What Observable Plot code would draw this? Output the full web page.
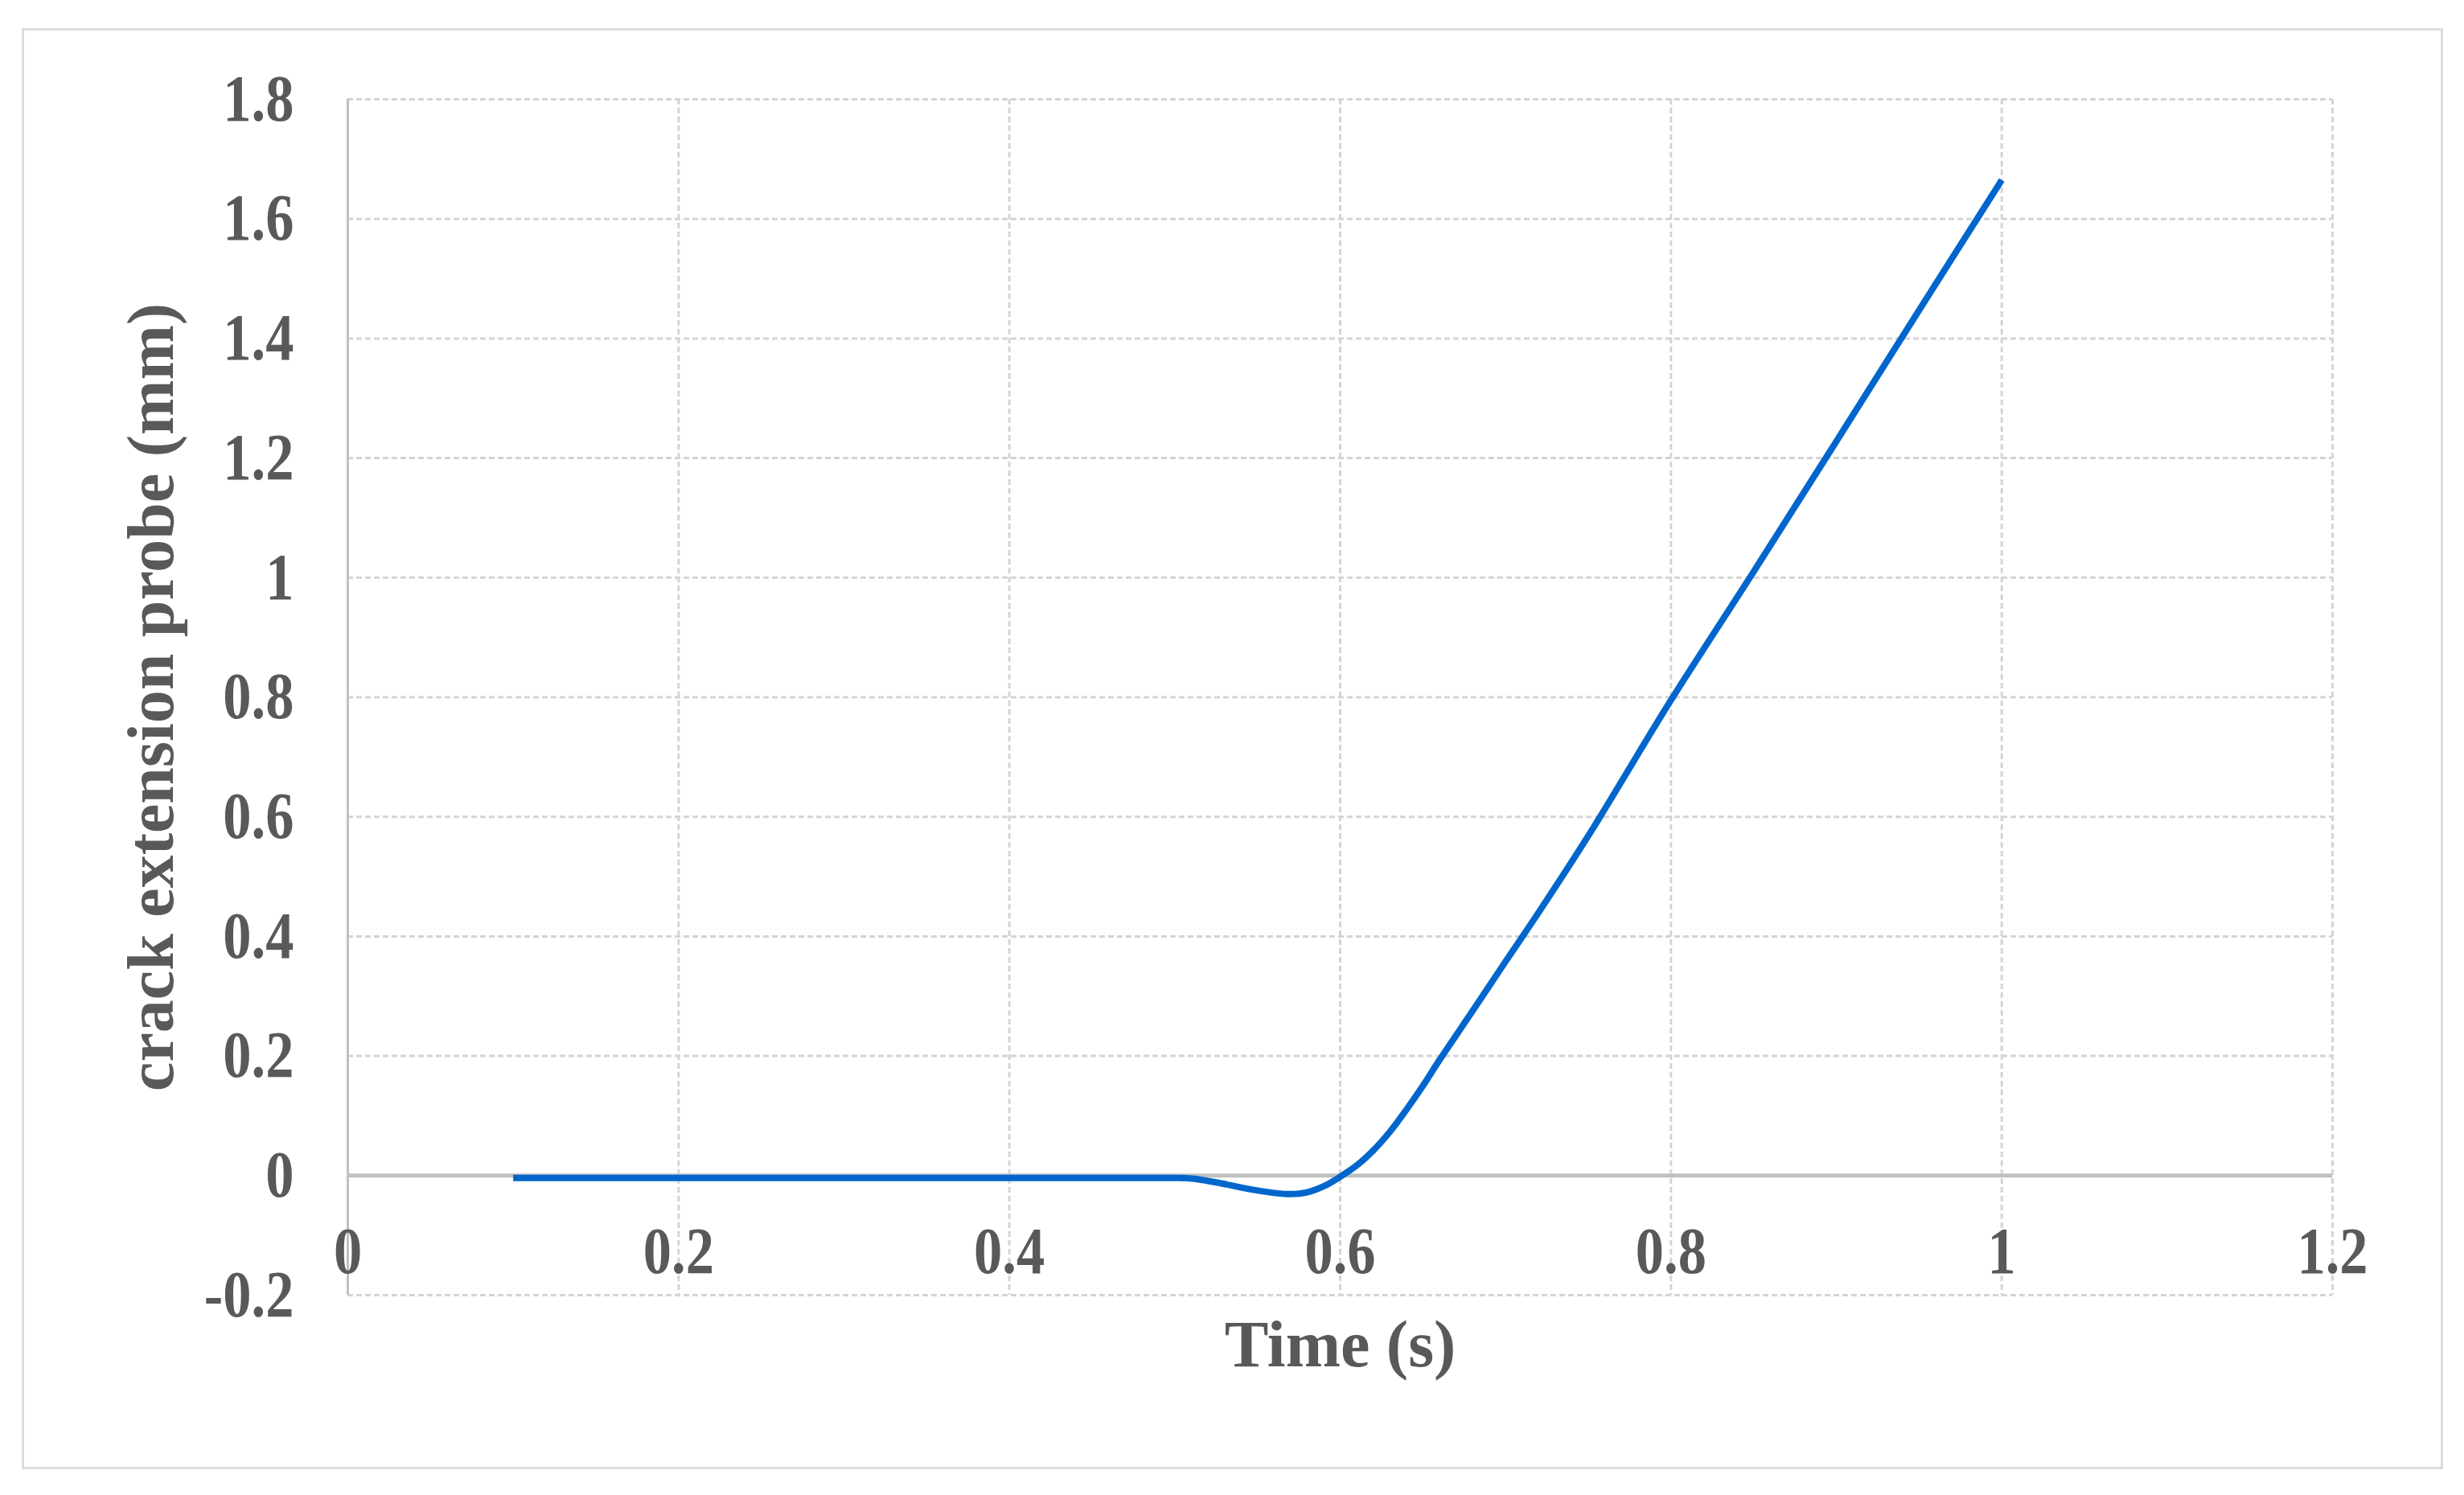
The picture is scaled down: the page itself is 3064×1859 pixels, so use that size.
<!DOCTYPE html>
<html>
<head>
<meta charset="utf-8">
<script src="https://cdn.jsdelivr.net/npm/d3@7"></script>
<script src="https://cdn.jsdelivr.net/npm/@observablehq/plot@0.6"></script>
<style>
  html, body { margin: 0; padding: 0; background: #ffffff; }
  #wrap { position: relative; width: 3064px; height: 1859px; overflow: hidden; }
  #frame { position: absolute; left: 27px; top: 35px; width: 3011px; height: 1792px;
           box-sizing: border-box; border: 3px solid #dcdcdc; pointer-events: none; }
  #chart { position: absolute; left: 0; top: 0; }
</style>
</head>
<body>
<div id="wrap"><div id="chart"></div><div id="frame"></div></div>
<script>
// Data
const time = [0.1, 0.2, 0.3, 0.4, 0.5, 0.51, 0.52, 0.53, 0.54, 0.55, 0.56, 0.57, 0.58, 0.59, 0.6, 0.61, 0.62, 0.63, 0.64, 0.65, 0.66, 0.68, 0.70, 0.72, 0.75, 0.8, 0.85, 0.9, 0.95, 1.0];
const extension = [-0.004, -0.004, -0.004, -0.004, -0.004, -0.005, -0.009, -0.014, -0.02, -0.025, -0.029, -0.031, -0.028, -0.018, -0.002, 0.017, 0.042, 0.073, 0.11, 0.15, 0.193, 0.275, 0.358, 0.44, 0.568, 0.795, 1.01, 1.228, 1.447, 1.665];
const xTicks = [0, 0.2, 0.4, 0.6, 0.8, 1, 1.2];
const yTicks = [-0.2, 0, 0.2, 0.4, 0.6, 0.8, 1, 1.2, 1.4, 1.6, 1.8];
const xTitle = "Time (s)";
const yTitle = "crack extension probe (mm)";

const data = time.map((t, i) => ({t, v: extension[i]}));
const fmt = d => String(+(+d).toFixed(1));
const font = "'Liberation Serif', 'Times New Roman', Times, serif";
const textColor = "#595959";
const gridStyle = {stroke: "#d4d4d4", strokeOpacity: 1, strokeWidth: 3, strokeDasharray: "7,4"};

const chart = Plot.plot({
  width: 3064,
  height: 1859,
  marginLeft: 432,
  marginRight: 164,
  marginTop: 123,
  marginBottom: 249,
  style: {background: "transparent", fontFamily: font},
  x: {domain: [0, 1.2], label: null},
  y: {domain: [-0.2, 1.8], label: null},
  marks: [
    Plot.gridX(xTicks.filter(d => d > 0), gridStyle),
    Plot.gridY(yTicks.filter(d => d !== 0), gridStyle),
    Plot.ruleX([0], {stroke: "#c0c0c0", strokeWidth: 3}),
    Plot.ruleY([0], {stroke: "#c0c0c0", strokeWidth: 5}),
    Plot.line(data, {x: "t", y: "v", stroke: "#0066cc", strokeWidth: 8, curve: "catmull-rom", strokeLinecap: "butt"}),
    Plot.axisY(yTicks, {anchor: "left", tickSize: 0, tickPadding: 67, tickFormat: fmt,
      fontSize: 82, fontWeight: "bold", fill: textColor, label: null}),
    Plot.axisX(xTicks, {anchor: "bottom", tickSize: 0, tickPadding: -86, tickFormat: fmt,
      fontSize: 82, fontWeight: "bold", fill: textColor, label: null}),
    Plot.text([yTitle], {frameAnchor: "left", dx: -244, rotate: -90, text: d => d, textAnchor: "middle",
      fontSize: 82, fontWeight: "bold", fill: textColor}),
    Plot.text([xTitle], {frameAnchor: "bottom", dy: 88, text: d => d, textAnchor: "middle",
      fontSize: 82, fontWeight: "bold", fill: textColor})
  ]
});

// Condense tick labels horizontally like the reference's narrow serif digits
chart.querySelectorAll('[aria-label="x-axis tick label"] text, [aria-label="y-axis tick label"] text').forEach(t => {
  const x = parseFloat(t.getAttribute("x")) || 0;
  const tr = t.getAttribute("transform") || "";
  t.setAttribute("transform", `${tr} translate(${x},0) scale(0.86,1) translate(${-x},0)`);
});

document.getElementById("chart").appendChild(chart);
</script>
</body>
</html>
